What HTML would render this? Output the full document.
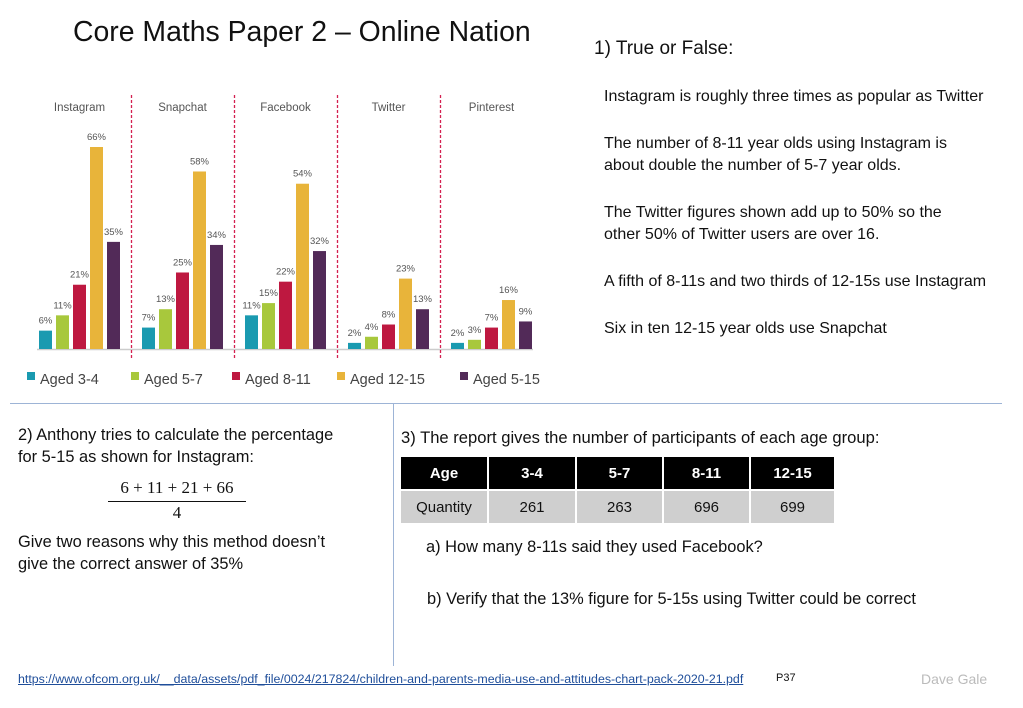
<!DOCTYPE html>
<html><head><meta charset="utf-8"><style>
body{margin:0;width:1023px;height:708px;background:#fff;font-family:"Liberation Sans",sans-serif;position:relative;overflow:hidden;color:#111}
.t{position:absolute;white-space:nowrap}
table{border-collapse:separate;border-spacing:2px;position:absolute;left:399px;top:455px}
td{font-size:15px;text-align:center;height:32px;padding:0}
</style></head><body>
<div class="t" style="left:73px;top:16px;font-size:28.4px">Core Maths Paper 2 – Online Nation</div>
<div class="t" style="left:594px;top:38px;font-size:19px">1) True or False:</div>
<div style="position:absolute;left:604px;top:86px;font-size:16px;line-height:22px;white-space:nowrap">
<div>Instagram is roughly three times as popular as Twitter</div>
<div style="margin-top:25px">The number of 8-11 year olds using Instagram is<br>about double the number of 5-7 year olds.</div>
<div style="margin-top:25px">The Twitter figures shown add up to 50% so the<br>other 50% of Twitter users are over 16.</div>
<div style="margin-top:25px">A fifth of 8-11s and two thirds of 12-15s use Instagram</div>
<div style="margin-top:25px">Six in ten 12-15 year olds use Snapchat</div>
</div>
<svg id="chart" width="600" height="400" style="position:absolute;left:0;top:0"></svg>
<div style="position:absolute;left:10px;top:403px;width:992px;height:1px;background:#9db4d6"></div>
<div style="position:absolute;left:393px;top:404px;width:1px;height:262px;background:#9db4d6"></div>
<div class="t" style="left:18px;top:424px;font-size:16.4px;line-height:22px">2) Anthony tries to calculate the percentage<br>for 5-15 as shown for Instagram:</div>
<div class="t" style="left:108px;top:478px;font-family:'Liberation Serif',serif;font-size:17px;text-align:center;width:138px">6 + 11 + 21 + 66<div style="border-top:1.5px solid #111;margin-top:3px;padding-top:1px">4</div></div>
<div class="t" style="left:18px;top:531px;font-size:16.4px;line-height:22px">Give two reasons why this method doesn’t<br>give the correct answer of 35%</div>
<div class="t" style="left:401px;top:428px;font-size:16.6px">3) The report gives the number of participants of each age group:</div>
<table>
<tr style="background:#000;color:#fff;font-weight:bold"><td style="width:86px">Age</td><td style="width:86px">3-4</td><td style="width:85px">5-7</td><td style="width:85px">8-11</td><td style="width:83px">12-15</td></tr>
<tr style="background:#cfcfcf"><td>Quantity</td><td>261</td><td>263</td><td>696</td><td>699</td></tr>
</table>
<div class="t" style="left:426px;top:538px;font-size:16.4px">a) How many 8-11s said they used Facebook?</div>
<div class="t" style="left:427px;top:590px;font-size:16.4px">b) Verify that the 13% figure for 5-15s using Twitter could be correct</div>
<a class="t" style="left:18px;top:672px;font-size:12.4px;color:#1f4e9a;text-decoration:underline">https://www.ofcom.org.uk/__data/assets/pdf_file/0024/217824/children-and-parents-media-use-and-attitudes-chart-pack-2020-21.pdf</a>
<div class="t" style="left:776px;top:672px;font-size:11px">P37</div>
<div class="t" style="left:921px;top:671px;font-size:14px;color:#bbb">Dave Gale</div>
<script>
const categories=["Instagram","Snapchat","Facebook","Twitter","Pinterest"];
const seriesNames=["Aged 3-4","Aged 5-7","Aged 8-11","Aged 12-15","Aged 5-15"];
const aged34=[6,7,11,2,2];
const aged57=[11,13,15,4,3];
const aged811=[21,25,22,8,7];
const aged1215=[66,58,54,23,16];
const aged515=[35,34,32,13,9];
const series=[aged34,aged57,aged811,aged1215,aged515];
const colors=["#1a9ab0","#a8c83c","#be1840","#e8b43a","#522a58"];
const svg=document.getElementById('chart');const NS="http://www.w3.org/2000/svg";
const base=349,scale=202/66,g0=39,gp=103,bp=17,bw=13;
const y=v=>base-v*scale;const x=(c,s)=>g0+c*gp+s*bp;
function mk(t,a){const e=document.createElementNS(NS,t);for(const k in a)e.setAttribute(k,a[k]);svg.appendChild(e);return e;}
let ln=mk('line',{x1:37,x2:533,y1:base+0.5,y2:base+0.5,stroke:'#ccc','stroke-width':1.5});

categories.forEach((c,ci)=>{
 const t=mk('text',{x:x(ci,2)+bw/2,y:111,'text-anchor':'middle','font-size':11.5,fill:'#555'});t.textContent=c;
 
 if(ci>0){const d=mk('line',{x1:x(ci,0)-10.5,x2:x(ci,0)-10.5,y1:95,y2:358,stroke:'#d42050','stroke-width':1.3,'stroke-dasharray':'3,2'});
 }
 series.forEach((s,si)=>{
  const r=mk('rect',{x:x(ci,si),y:y(s[ci]),width:bw,height:s[ci]*scale,fill:colors[si]});
  
  const l=mk('text',{x:x(ci,si)+bw/2,y:y(s[ci])-7,'text-anchor':'middle','font-size':9.5,fill:'#555'});l.textContent=s[ci]+'%';
  
 });
});
const lx=[27,131,232,337,460];
seriesNames.forEach((n,i)=>{
 const r=mk('rect',{x:lx[i],y:372,width:8,height:8,fill:colors[i]});
 
 const t=mk('text',{x:lx[i]+13,y:384,'font-size':14.5,fill:'#444'});t.textContent=n;
 
});
</script>
</body></html>
